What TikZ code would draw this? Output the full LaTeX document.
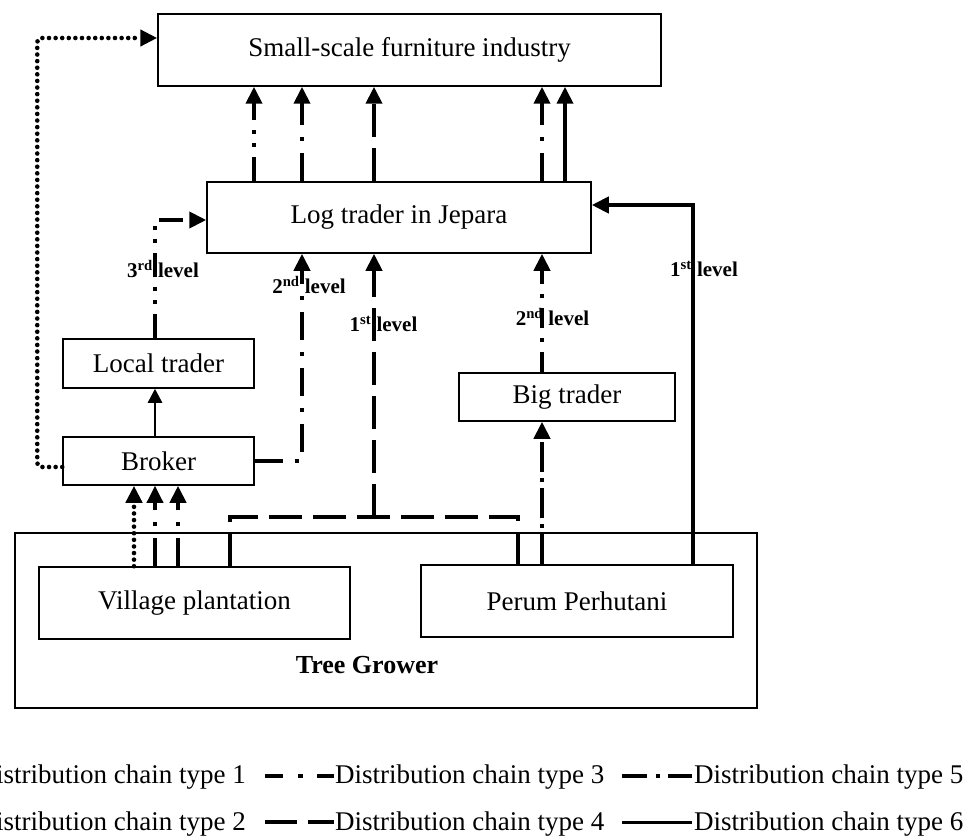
\documentclass[tikz,border=0pt]{standalone}
\usepackage{fontspec}
\setmainfont{Liberation Serif}
\usetikzlibrary{arrows.meta}
\begin{document}
\begin{tikzpicture}[x=1pt,y=-1pt,
  box/.style={draw,line width=1.5pt,inner sep=0pt,font=\fontsize{27}{32}\selectfont},
  lv/.style={inner sep=0pt,font=\bfseries\fontsize{21}{24}\selectfont},
  lgtext/.style={inner sep=0pt,font=\fontsize{27}{32}\selectfont},
  arr/.style={line width=4pt,-{Triangle[width=16pt,length=17pt]}},
  dotc/.style={line width=4.6pt,line cap=round,dash pattern=on 0pt off 6.6pt},
  ddot/.style={line width=4pt,dash pattern=on 24pt off 10pt on 4pt off 9pt on 4pt off 10pt},
  dda/.style={line width=4pt,dash pattern=on 28pt off 12pt on 4pt off 12pt},
  ddb/.style={line width=4pt,dash pattern=on 30pt off 6pt on 4pt off 6pt},
  ldash/.style={line width=4pt,dash pattern=on 33pt off 11pt},
  solidc/.style={line width=4pt}
]
\useasboundingbox (0,0) rectangle (972,837);

% boxes
\node[box,minimum width=503pt,minimum height=72pt] (small) at (409.5,50) {Small-scale furniture industry};
\node[box,minimum width=384pt,minimum height=71pt] (log) at (399,217.5) {Log trader in Jepara};
\node[box,minimum width=191pt,minimum height=49pt] (local) at (158.5,363.5) {Local trader};
\node[box,minimum width=191pt,minimum height=48pt] (broker) at (158.5,461) {Broker};
\node[box,minimum width=216pt,minimum height=48pt] (big) at (567,397) {Big trader};
\node[box,minimum width=742pt,minimum height=175pt] (grower) at (386,620.5) {};
\node[box,minimum width=311pt,minimum height=72pt] (village) at (194.5,603) {Village plantation};
\node[box,minimum width=312pt,minimum height=72pt] (perum) at (577,601) {Perum Perhutani};
\node[inner sep=0pt,font=\bfseries\fontsize{26}{30}\selectfont] (tg) at (367,665) {Tree Grower};

% x positions
\coordinate (x134) at (134,0);
\coordinate (x155) at (155,0);
\coordinate (x178) at (178,0);
\coordinate (x230) at (230,0);
\coordinate (x254) at (254,0);
\coordinate (x302) at (302,0);
\coordinate (x374) at (374,0);
\coordinate (x518) at (518,0);
\coordinate (x542) at (542,0);
\coordinate (x565) at (565,0);
\coordinate (x693) at (693,0);
\coordinate (j374) at (374,517);

% Log trader -> Small-scale
\draw[arr,ddot] (log.north -| x254) -- (small.south -| x254);
\draw[arr,dda] (log.north -| x302) -- (small.south -| x302);
\draw[arr,ldash] (log.north -| x374) -- (small.south -| x374);
\draw[arr,dda] (log.north -| x542) -- (small.south -| x542);
\draw[arr,solidc] (log.north -| x565) -- (small.south -| x565);

% Village -> Broker
\draw[arr,dotc] (village.north -| x134) -- (broker.south -| x134);
\draw[arr,dda,line width=3.5pt] (village.north -| x155) -- (broker.south -| x155);
\draw[arr,dda] (village.north -| x178) -- (broker.south -| x178);

% Broker -> Small-scale (dotted)
\draw[arr,dotc,rounded corners=4pt] ([yshift=-6pt]broker.west) -- ++(-25,0) |- ([yshift=12pt]small.west);

% Broker -> Local trader
\draw[line width=2.5pt,-{Triangle[width=14pt,length=14pt]}] (broker.north -| x155) -- (local.south -| x155);

% Local trader -> Log trader (3rd level)
\draw[arr,ddot] (local.north -| x155) |- ([yshift=-2.5pt]log.west);

% Broker -> Log trader (2nd level)
\draw[arr,dda] (broker.east) -| (log.south -| x302);

% Village/Perum -> Log trader (1st level) long dash
\draw[ldash] (village.north -| x230) |- (j374) -| (perum.north -| x518);
\draw[arr,ldash] (j374) -- (log.south -| x374);

% Perum -> Big trader -> Log trader
\draw[arr,ddb] (perum.north -| x542) -- (big.south -| x542);
\draw[arr,dda,dash pattern=on 20pt off 10pt on 4pt off 10pt] (big.north -| x542) -- (log.south -| x542);

% Perum -> Log trader (1st level) solid
\draw[arr,solidc] (perum.north -| x693) |- ([yshift=12.5pt]log.east);

% level labels
\node[lv] (l3) at (163,269) {3\textsuperscript{rd} level};
\node[lv] (l2a) at (309,285) {2\textsuperscript{nd} level};
\node[lv] (l1a) at (383.5,324) {1\textsuperscript{st} level};
\node[lv] (l2b) at (552.5,317) {2\textsuperscript{nd} level};
\node[lv] (l1b) at (704,269) {1\textsuperscript{st} level};

% legend
\node[lgtext,anchor=base east] (t1) at (246,783) {Distribution chain type 1};
\node[lgtext,anchor=base east] (t2) at (246,830) {Distribution chain type 2};
\node[lgtext,anchor=base west] (t3) at (335,783) {Distribution chain type 3};
\node[lgtext,anchor=base west] (t4) at (335,830) {Distribution chain type 4};
\node[lgtext,anchor=base west] (t5) at (694,783) {Distribution chain type 5};
\node[lgtext,anchor=base west] (t6) at (694,830) {Distribution chain type 6};
\coordinate (a3) at (265,776);
\coordinate (b3) at (334,776);
\coordinate (a5) at (622,776);
\coordinate (b5) at (692,776);
\coordinate (a4) at (265,822);
\coordinate (b4) at (334,822);
\coordinate (a6) at (622,822);
\coordinate (b6) at (692,822);
\draw[line width=4.5pt,dash pattern=on 18pt off 15pt on 5pt off 14pt on 17pt] (a3) -- (b3);
\draw[line width=4pt,dash pattern=on 25pt off 9pt on 4pt off 8pt on 24pt] (a5) -- (b5);
\draw[line width=4pt,dash pattern=on 32pt off 11pt on 26pt] (a4) -- (b4);
\draw[line width=3pt] (a6) -- (b6);
\end{tikzpicture}
\end{document}
